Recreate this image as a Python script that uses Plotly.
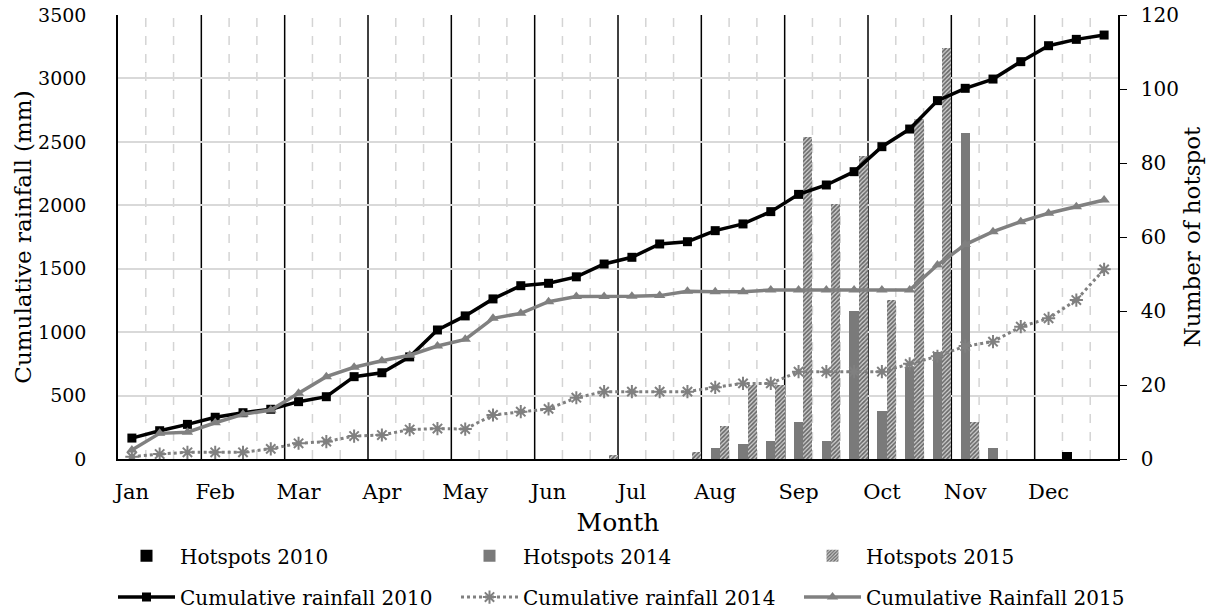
import plotly.graph_objects as go

months = ["Jan", "Feb", "Mar", "Apr", "May", "Jun", "Jul", "Aug", "Sep", "Oct", "Nov", "Dec"]
dekads = [f"{m} D{d}" for m in months for d in (1, 2, 3)]

rain_2010 = [165, 223, 273, 329, 365, 392, 452, 491, 649, 680, 805, 1017,
             1128, 1262, 1366, 1385, 1436, 1537, 1590, 1695, 1713, 1800, 1853, 1950,
             2086, 2160, 2265, 2462, 2601, 2825, 2922, 2995, 3132, 3258, 3308, 3342]
rain_2014 = [18, 39, 53, 53, 53, 80, 124, 137, 181, 189, 232, 240,
             236, 347, 373, 395, 483, 531, 531, 531, 531, 565, 596, 596,
             688, 688, 688, 688, 750, 810, 890, 925, 1043, 1109, 1253, 1495]
rain_2015 = [71, 202, 211, 286, 352, 386, 518, 649, 723, 775, 818, 891,
             943, 1109, 1148, 1240, 1280, 1280, 1282, 1288, 1322, 1319, 1319, 1332,
             1332, 1332, 1332, 1332, 1332, 1529, 1690, 1792, 1871, 1937, 1989, 2042]

hot_2010 = [0] * 34 + [2, 0]
hot_2014 = [0] * 21 + [3, 4, 5, 10, 5, 40, 13, 25, 29, 88, 3, 0, 0, 0, 0]
hot_2015 = [0] * 17 + [1, 0, 0, 2, 9, 20, 20, 87, 69, 82, 43, 92, 111, 10, 0, 0, 0, 0, 0]

FONT = "DejaVu Serif"
GRAY = "#808080"

fig = go.Figure()

fig.add_trace(go.Bar(x=dekads, y=hot_2010, name="Hotspots 2010",
                     marker=dict(color="black", line=dict(width=0)),
                     yaxis="y", legend="legend"))
fig.add_trace(go.Bar(x=dekads, y=hot_2014, name="Hotspots 2014",
                     marker=dict(color="#7a7a7a", line=dict(width=0)),
                     yaxis="y", legend="legend"))
fig.add_trace(go.Bar(x=dekads, y=hot_2015, name="Hotspots 2015",
                     marker=dict(color="#d0d0d0", line=dict(width=0),
                                 pattern=dict(shape="/", fgcolor="black", bgcolor="#d0d0d0",
                                              size=3, solidity=0.55)),
                     yaxis="y", legend="legend"))

fig.add_trace(go.Scatter(x=dekads, y=rain_2010, name="Cumulative rainfall 2010", mode="lines+markers",
                         line=dict(color="black", width=3.5),
                         marker=dict(symbol="square", size=9, color="black"),
                         yaxis="y2", legend="legend2"))
fig.add_trace(go.Scatter(x=dekads, y=rain_2014, name="Cumulative rainfall 2014", mode="lines+markers",
                         line=dict(color=GRAY, width=3, dash="dot"),
                         marker=dict(symbol="asterisk-open", size=11, color=GRAY,
                                     line=dict(color=GRAY, width=2)),
                         yaxis="y2", legend="legend2"))
fig.add_trace(go.Scatter(x=dekads, y=rain_2015, name="Cumulative Rainfall 2015", mode="lines+markers",
                         line=dict(color=GRAY, width=3.5),
                         marker=dict(symbol="triangle-up", size=10, color=GRAY),
                         yaxis="y2", legend="legend2"))

# vertical grid: solid at month boundaries, dashed at dekad boundaries
shapes = []
for k in range(1, len(dekads)):
    month_edge = (k % 3 == 0)
    shapes.append(dict(type="line", xref="x", yref="paper", x0=k - 0.5, x1=k - 0.5, y0=0, y1=1,
                       layer="below",
                       line=dict(color="black" if month_edge else "#d4d4d4",
                                 width=1.5,
                                 dash="solid" if month_edge else "dash")))

legend_common = dict(orientation="h", x=-0.005, xanchor="left", yanchor="middle",
                     entrywidth=271, entrywidthmode="pixels", itemwidth=57,
                     font=dict(size=20), bgcolor="rgba(0,0,0,0)", traceorder="normal")

fig.update_layout(
    width=1215, height=612,
    margin=dict(l=118, r=97, t=15, b=153, autoexpand=False),
    paper_bgcolor="white", plot_bgcolor="white",
    font=dict(family=FONT, color="black", size=17),
    barmode="group", bargap=0, bargroupgap=0,
    shapes=shapes,
    xaxis=dict(
        type="category", range=[-0.5, 35.5],
        tickmode="array", tickvals=dekads[::3], ticktext=months,
        tickfont=dict(size=21), showgrid=False, ticklabelstandoff=13,
        showline=True, linecolor="black", linewidth=2, ticks="",
        title=dict(text="Month", font=dict(size=25), standoff=10),
    ),
    yaxis=dict(
        side="right", range=[0, 120], dtick=20, showgrid=False, zeroline=False,
        showline=True, linecolor="black", linewidth=1.5,
        ticks="outside", ticklen=7, tickcolor="black", tickfont=dict(size=20),
        ticklabelstandoff=10, ticklabeloverflow="allow",
        title=dict(text="Number of hotspot", font=dict(size=23), standoff=6),
    ),
    yaxis2=dict(
        overlaying="y", side="left", range=[0, 3500], dtick=500,
        showgrid=True, gridcolor="#d9d9d9", gridwidth=2, zeroline=False,
        showline=True, linecolor="black", linewidth=1.5, ticks="",
        tickfont=dict(size=19), ticklabelstandoff=26, ticklabeloverflow="allow",
        title=dict(text="Cumulative rainfall (mm)", font=dict(size=23), standoff=0),
    ),
    legend=dict(y=-0.218, **legend_common),
    legend2=dict(y=-0.311, **legend_common),
)

fig.write_html("out.html", config={"displayModeBar": False},
               post_script="document.body.style.margin='0';")
